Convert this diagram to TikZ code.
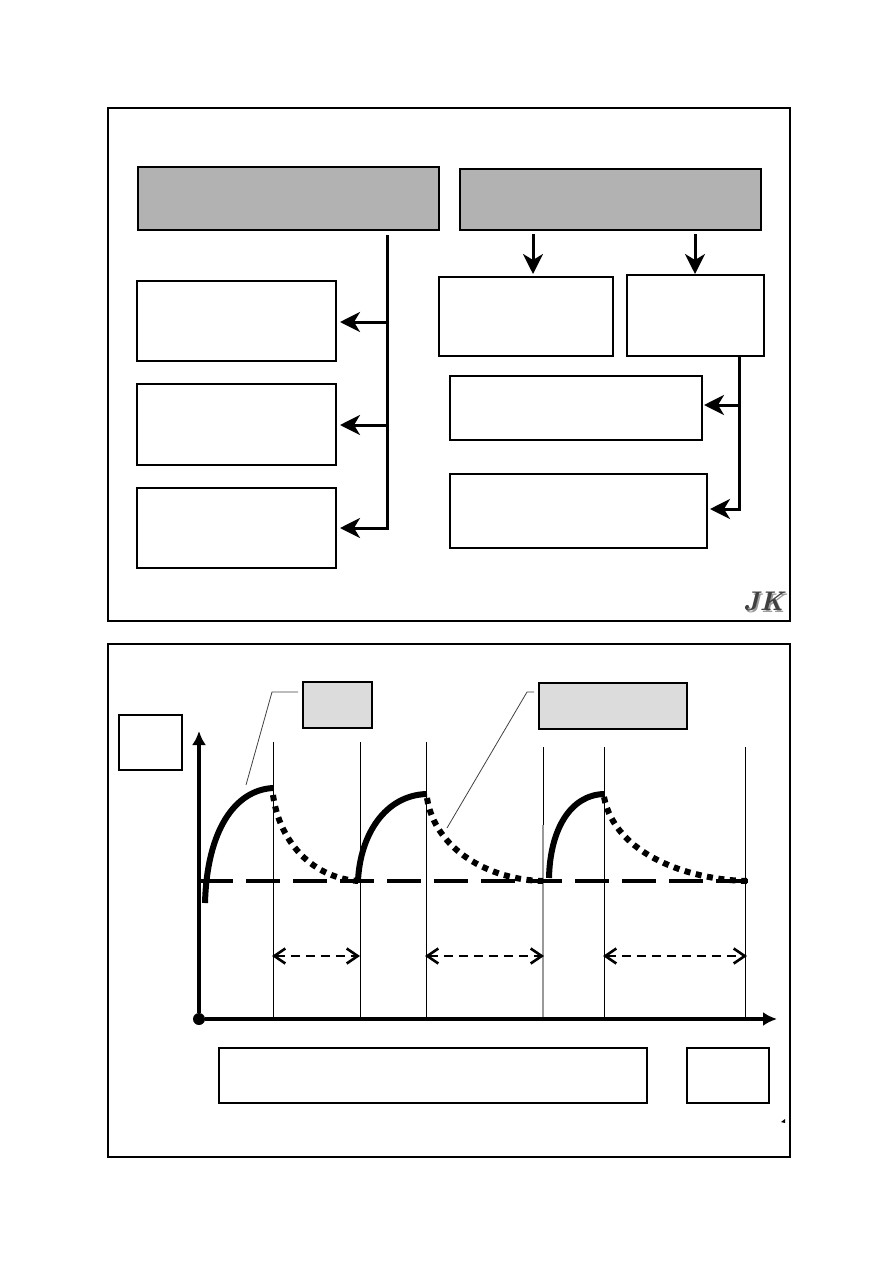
\documentclass[tikz,border=0pt]{standalone}
\usepackage{amsmath,amsthm,amssymb}
\usepackage{tikz}
\usetikzlibrary{arrows.meta}
\definecolor{headgrey}{HTML}{B2B2B2}
\definecolor{notegrey}{HTML}{DCDCDC}
\tikzset{
	box/.style={shape=rectangle,draw=black,line width=2.8pt,inner sep=0pt,outer sep=0pt},
	sheet/.style={shape=rectangle,draw=black,line width=2pt,inner sep=0pt,outer sep=0pt},
	headbox/.style={box,fill=headgrey},
	notebox/.style={shape=rectangle,draw=black,line width=1.4pt,fill=notegrey,inner sep=0pt,outer sep=0pt},
	feed/.style={line width=3pt,-{Stealth[length=20pt,width=20pt,inset=6pt]}},
	trunk/.style={line width=3pt,line cap=rect},
	tick/.style={line width=1pt},
	riseline/.style={line width=6pt},
	fallline/.style={line width=6pt,dash pattern=on 6pt off 5.5pt},
	span/.style={line width=2.5pt,dash pattern=on 9pt off 6pt,{Straight Barb[length=11pt,width=15pt,line width=2.6pt]}-{Straight Barb[length=11pt,width=15pt,line width=2.6pt]}},
	leader/.style={line width=0.8pt,draw=black!75}
}
\begin{document}
\begin{tikzpicture}[x=1pt,y=-1pt]
	\useasboundingbox (0,0) rectangle (893,1263);
	\node[sheet,minimum width=682pt,minimum height=513pt] (sheetA) at (449,364.5) {};
	\node[sheet,minimum width=682pt,minimum height=513pt] (sheetB) at (449,900.5) {};
	% top sheet
	\node[headbox,minimum width=301pt,minimum height=63pt] (headL) at (288.5,198.5) {};
	\node[headbox,minimum width=301pt,minimum height=61pt] (headR) at (610.5,199.5) {};
	\node[box,minimum width=199pt,minimum height=80pt] (L1) at (236.5,321) {};
	\node[box,minimum width=199pt,minimum height=81pt] (L2) at (236.5,424.5) {};
	\node[box,minimum width=199pt,minimum height=80pt] (L3) at (236.5,528) {};
	\node[box,minimum width=174pt,minimum height=79pt] (R1) at (526,316.5) {};
	\node[box,minimum width=137pt,minimum height=81pt] (R2) at (695.5,315.5) {};
	\node[box,minimum width=252pt,minimum height=64pt] (R3) at (576,408) {};
	\node[box,minimum width=257pt,minimum height=74pt] (R4) at (578.5,511) {};
	\coordinate (trunkL) at (387,236);
	\coordinate (joinL1) at (387,322);
	\coordinate (joinL2) at (387,425);
	\coordinate (joinL3) at (387,528);
	\coordinate (tipL1) at (340,322);
	\coordinate (tipL2) at (340,425);
	\coordinate (tipL3) at (340,528);
	\coordinate (startR1) at (533,234);
	\coordinate (tipR1) at (533,274);
	\coordinate (startR2) at (695,234);
	\coordinate (tipR2) at (695,274);
	\coordinate (trunkR) at (739,358);
	\coordinate (joinR3) at (739,405);
	\coordinate (joinR4) at (739,509);
	\coordinate (tipR3) at (704,405);
	\coordinate (tipR4) at (710,509);
	\path [trunk] (trunkL) edge (joinL3);
	\path [feed] (joinL1) edge (tipL1);
	\path [feed] (joinL2) edge (tipL2);
	\path [feed] (joinL3) edge (tipL3);
	\path [feed] (startR1) edge (tipR1);
	\path [feed] (startR2) edge (tipR2);
	\path [trunk] (trunkR) edge (joinR4);
	\path [feed] (joinR3) edge (tipR3);
	\path [feed] (joinR4) edge (tipR4);
	\node[inner sep=0pt] (logoshade) at (765,603) {\color{black!40}\fontsize{27}{27}\selectfont\itshape\bfseries JK};
	\node[inner sep=0pt] (logo) at (763.5,601.5) {\color{black!75}\fontsize{27}{27}\selectfont\itshape\bfseries JK};
	% bottom sheet
	\node[box,minimum width=63pt,minimum height=55pt] (yname) at (150.5,742.5) {};
	\node[notebox,minimum width=69pt,minimum height=46pt] (noteA) at (337.5,705) {};
	\node[notebox,minimum width=148pt,minimum height=46pt] (noteB) at (613,706) {};
	\node[box,minimum width=428pt,minimum height=55pt] (xname) at (433,1075.5) {};
	\node[box,minimum width=82pt,minimum height=55pt] (xunit) at (728,1075.5) {};
	\node[shape=circle,fill=black,minimum size=12pt,inner sep=0pt] (O) at (199,1019) {};
	\coordinate (ytop) at (199,731);
	\coordinate (xend) at (777,1019);
	\coordinate (t1top) at (273,742);
	\coordinate (t1) at (273,1019);
	\coordinate (t2top) at (360,742);
	\coordinate (t2) at (360,1019);
	\coordinate (t3top) at (426,742);
	\coordinate (t3) at (426,1019);
	\coordinate (t4top) at (543,747);
	\coordinate (t4mid) at (543,825);
	\coordinate (t4) at (543,1019);
	\coordinate (t5top) at (604,747);
	\coordinate (t5) at (604,1019);
	\coordinate (t6top) at (745,747);
	\coordinate (t6) at (745,1019);
	\path [tick] (t1top) edge (t1);
	\path [tick] (t2top) edge (t2);
	\path [tick] (t3top) edge (t3);
	\path [tick] (t4top) edge (t4mid);
	\path [tick,draw=black!40,line width=1.6pt] (t4mid) edge (t4);
	\path [tick] (t5top) edge (t5);
	\path [tick] (t6top) edge (t6);
	\path [line width=3.5pt,-{Latex[length=14pt,width=14pt]}] (O) edge (ytop);
	\path [line width=3.5pt,-{Latex[length=14pt,width=14pt]}] (O) edge (xend);
	\coordinate (baseA) at (199,881);
	\coordinate (baseB) at (748,881);
	\path [line width=4.5pt,dash pattern=on 34pt off 13pt] (baseA) edge (baseB);
	% humps
	\draw [riseline] (205,903) .. controls (207,830) and (235,790) .. (273,788);
	\draw [fallline] (273,795) .. controls (280,845) and (315,878) .. (358,881);
	\draw [riseline] (358,881) .. controls (360,835) and (385,795) .. (427,794);
	\draw [fallline] (427,798) .. controls (435,850) and (490,880) .. (543,881);
	\draw [riseline] (549,878) .. controls (550,830) and (570,795) .. (604,794);
	\draw [fallline] (604,797) .. controls (615,855) and (690,880) .. (747,881);
	% leaders
	\coordinate (leadA) at (246,785);
	\coordinate (bendA) at (272,692);
	\coordinate (footA) at (298,692);
	\coordinate (leadB) at (447,828);
	\coordinate (bendB) at (527,692);
	\coordinate (footB) at (534,692);
	\draw [leader] (leadA) -- (bendA) -- (footA);
	\draw [leader] (leadB) -- (bendB) -- (footB);
	% spans
	\coordinate (s1a) at (272,956);
	\coordinate (s1b) at (360,956);
	\coordinate (s2a) at (425,956);
	\coordinate (s2b) at (544,956);
	\coordinate (s3a) at (603,956);
	\coordinate (s3b) at (747,956);
	\path [span] (s1a) edge (s1b);
	\path [span] (s2a) edge (s2b);
	\path [span] (s3a) edge (s3b);
	\fill (781,1122) -- (785,1119) -- (785,1123) -- cycle;
\end{tikzpicture}
\end{document}
